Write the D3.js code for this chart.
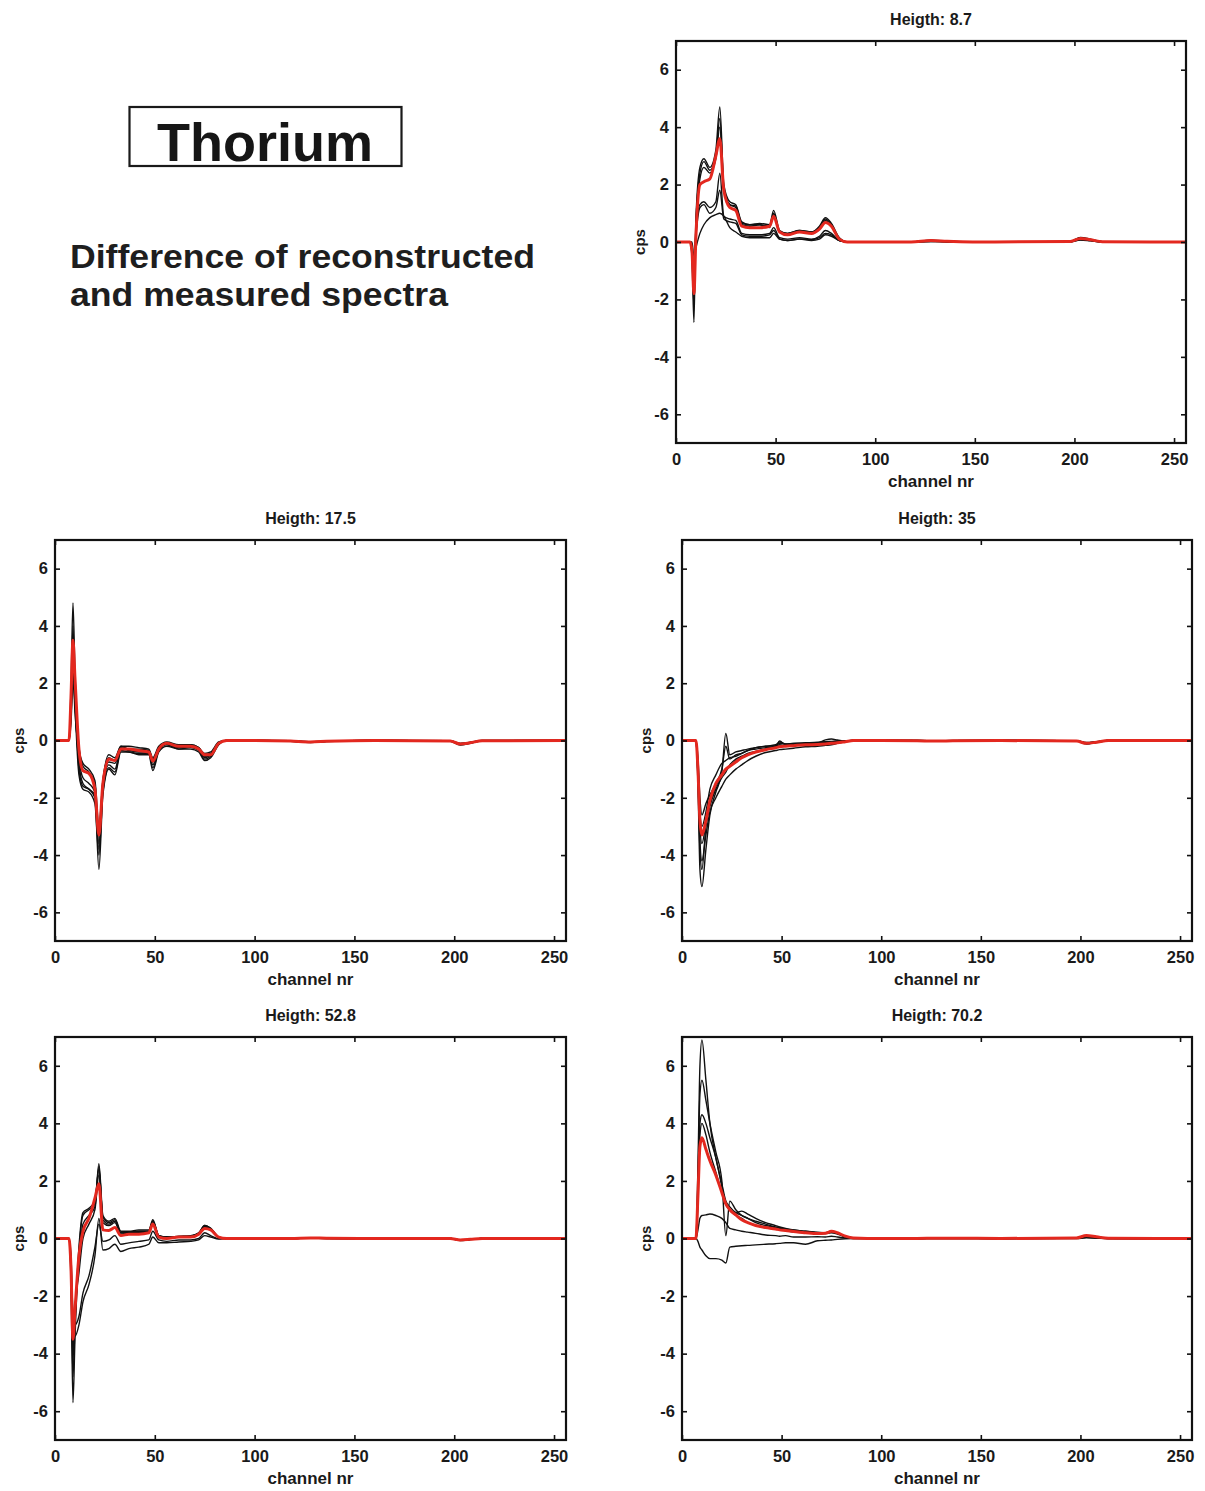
<!DOCTYPE html>
<html>
<head>
<meta charset="utf-8">
<script src="https://cdn.jsdelivr.net/npm/d3@7"></script>
<style>
  html, body { margin: 0; padding: 0; background: #fff; }
  svg { display: block; font-family: "Liberation Sans", Arial, Helvetica, sans-serif; }
</style>
</head>
<body>
<svg id="chart" width="1205" height="1491"></svg>
<script>
// ---------------- DATA ----------------
const channels = [0, 7, 8, 9, 10, 12, 14, 17, 20, 22, 24, 27, 30, 33, 37, 42, 47, 49, 52, 56, 62, 68, 72, 75, 78, 82, 86, 100, 118, 128, 136, 160, 198, 203, 208, 214, 256];
const xTicks = [0, 50, 100, 150, 200, 250];
const yTicks = [-6, -4, -2, 0, 2, 4, 6];
const titles = ["Heigth: 8.7", "Heigth: 17.5", "Heigth: 35", "Heigth: 52.8", "Heigth: 70.2"];

// Height 8.7
const h87Red = [0,0,-0.3,-1.8,0.2,2.0,2.1,2.2,3.0,3.6,1.8,1.2,1.1,0.55,0.5,0.5,0.55,0.9,0.35,0.25,0.35,0.3,0.45,0.68,0.55,0.1,0, 0,0,0.05,0.03,0,0.02,0.12,0.08,0.01,0];
const h87Black = [
  [0,0,-0.5,-2.8,0.8,2.6,2.9,2.6,3.2,4.7,2.0,1.4,1.3,0.7,0.6,0.65,0.6,1.1,0.4,0.3,0.4,0.35,0.55,0.85,0.65,0.15,0, 0,0,0.06,0.03,0,0.02,0.16,0.1,0.01,0],
  [0,0,-0.4,-2.2,0.6,2.4,2.8,2.5,3.0,4.3,1.9,1.3,1.25,0.65,0.6,0.6,0.55,1.0,0.35,0.3,0.4,0.35,0.5,0.8,0.6,0.12,0, 0,0,0.05,0.02,0,0.02,0.14,0.09,0.01,0],
  [0,0,-0.3,-1.5,0.5,2.2,2.6,2.4,2.9,4.0,1.8,1.3,1.2,0.6,0.55,0.6,0.5,0.95,0.35,0.25,0.35,0.3,0.45,0.75,0.55,0.1,0, 0,0,0.04,0.02,0,0.01,0.13,0.08,0.01,0],
  [0,0,-0.2,-1.0,0.3,1.3,1.4,1.2,1.4,2.4,0.9,0.8,0.75,0.3,0.25,0.25,0.3,0.5,0.15,0.1,0.15,0.1,0.2,0.4,0.3,0.05,0, 0,0,0.03,0.01,0,0.01,0.1,0.06,0,0],
  [0,0,-0.2,-0.8,0.2,1.2,1.3,1.0,1.2,1.8,0.8,0.7,0.65,0.25,0.2,0.2,0.25,0.4,0.1,0.05,0.1,0.08,0.15,0.3,0.25,0.05,0, 0,0,0.02,0.01,0,0.01,0.08,0.05,0,0],
  [0,0,0,-0.5,-0.2,0.3,0.6,0.85,0.95,1.0,0.9,0.5,0.35,0.2,0.15,0.15,0.15,0.3,0.1,0.05,0.1,0.05,0.1,0.25,0.2,0.05,0, 0,0,0.02,0.01,0,0.01,0.07,0.04,0,0]
];

// Height 17.5
const h175Red = [0,0,1.5,3.5,2.2,-0.3,-1.05,-1.15,-1.7,-3.3,-1.5,-0.65,-0.7,-0.3,-0.3,-0.35,-0.4,-0.72,-0.3,-0.1,-0.2,-0.2,-0.3,-0.5,-0.5,-0.1,0, 0,-0.02,-0.05,-0.03,0,-0.02,-0.12,-0.08,-0.01,0];
const h175Black = [
  [0,0,1.8,4.8,2.4,-0.2,-0.9,-1.1,-1.5,-3.6,-1.4,-0.5,-0.6,-0.2,-0.2,-0.25,-0.3,-0.6,-0.2,-0.05,-0.15,-0.15,-0.25,-0.45,-0.4,-0.05,0, 0,-0.01,-0.04,-0.02,0,-0.01,-0.1,-0.06,0,0],
  [0,0,1.3,4.0,1.6,-0.8,-1.5,-1.7,-2.0,-4.5,-1.9,-1.0,-1.2,-0.4,-0.4,-0.5,-0.5,-1.05,-0.4,-0.2,-0.3,-0.3,-0.4,-0.7,-0.6,-0.15,0, 0,-0.03,-0.07,-0.04,0,-0.03,-0.16,-0.1,-0.02,0],
  [0,0,1.0,3.2,1.3,-1.2,-1.7,-1.8,-2.2,-4.0,-1.8,-0.95,-1.1,-0.35,-0.4,-0.45,-0.45,-0.95,-0.35,-0.15,-0.3,-0.25,-0.35,-0.65,-0.55,-0.12,0, 0,-0.02,-0.06,-0.03,0,-0.02,-0.14,-0.09,-0.01,0],
  [0,0,0.8,2.4,1.0,-0.3,-0.8,-1.0,-1.4,-3.0,-1.4,-0.6,-0.7,-0.2,-0.3,-0.3,-0.35,-0.65,-0.25,-0.08,-0.2,-0.15,-0.25,-0.5,-0.45,-0.08,0, 0,-0.01,-0.04,-0.02,0,-0.01,-0.1,-0.07,0,0],
  [0,0,0.6,2.0,1.3,-1.0,-1.6,-1.7,-1.9,-3.8,-1.6,-0.85,-1.0,-0.3,-0.35,-0.4,-0.4,-0.85,-0.3,-0.12,-0.25,-0.2,-0.3,-0.6,-0.5,-0.1,0, 0,-0.02,-0.05,-0.03,0,-0.02,-0.13,-0.08,-0.01,0],
  [0,0,1.2,3.6,1.7,-0.6,-1.3,-1.5,-1.8,-3.2,-1.5,-0.75,-0.8,-0.25,-0.3,-0.35,-0.35,-0.75,-0.25,-0.1,-0.25,-0.2,-0.3,-0.55,-0.5,-0.08,0, 0,-0.02,-0.05,-0.03,0,-0.02,-0.12,-0.08,-0.01,0]
];

// Height 35
const h35Red = [0,0,-1.0,-2.8,-3.3,-2.8,-2.1,-1.5,-1.2,-1.0,-0.9,-0.75,-0.6,-0.5,-0.4,-0.32,-0.25,-0.22,-0.2,-0.18,-0.15,-0.14,-0.12,-0.1,-0.08,-0.04,0, 0,-0.01,-0.02,-0.01,0,-0.02,-0.1,-0.06,0,0];
const h35Black = [
  [0,0,-1.5,-4.5,-5.1,-3.8,-2.6,-1.8,-1.1,0.25,-0.5,-0.4,-0.35,-0.3,-0.25,-0.2,-0.15,-0.05,-0.12,-0.1,-0.1,-0.08,-0.05,-0.05,-0.02,-0.02,0, 0,0,-0.02,-0.01,0,-0.01,-0.08,-0.05,0,0],
  [0,0,-0.8,-2.5,-3.0,-2.5,-1.7,-1.2,-0.8,-0.7,-0.6,-0.55,-0.45,-0.35,-0.25,-0.2,-0.18,-0.1,-0.12,-0.1,-0.08,-0.06,-0.04,-0.03,-0.02,-0.01,0, 0,0,-0.01,0,0,-0.01,-0.07,-0.04,0,0],
  [0,0,-1.2,-3.5,-4.2,-3.3,-2.5,-2.0,-1.6,-1.35,-1.2,-1.0,-0.85,-0.7,-0.55,-0.42,-0.35,-0.32,-0.3,-0.27,-0.22,-0.2,-0.17,-0.15,-0.1,-0.05,0, 0,-0.01,-0.03,-0.02,0,-0.02,-0.12,-0.07,-0.01,0],
  [0,0,-1.0,-3.0,-3.6,-2.9,-2.2,-1.6,-1.2,-1.0,-0.9,-0.7,-0.6,-0.5,-0.4,-0.3,-0.25,-0.2,-0.2,-0.17,-0.14,-0.12,-0.1,-0.08,-0.05,-0.03,0, 0,-0.01,-0.02,-0.01,0,-0.02,-0.1,-0.06,0,0],
  [0,0,-0.6,-2.0,-2.6,-2.2,-1.9,-1.5,-1.0,-0.2,-0.65,-0.5,-0.45,-0.35,-0.3,-0.25,-0.2,-0.15,-0.18,-0.15,-0.12,-0.1,-0.08,-0.06,-0.04,-0.02,0, 0,0,-0.02,-0.01,0,-0.01,-0.09,-0.05,0,0],
  [0,0,-1.3,-3.8,-4.5,-3.0,-2.3,-1.7,-1.3,-1.1,-0.85,-0.65,-0.55,-0.45,-0.38,-0.3,-0.22,-0.02,-0.15,-0.13,-0.1,-0.08,0.02,0.05,0.02,-0.02,0, 0,-0.01,-0.02,-0.01,0,-0.01,-0.11,-0.06,0,0]
];

// Height 52.8
const h528Red = [0,0,-1.0,-3.5,-2.5,-0.6,0.25,0.7,1.4,1.9,0.3,0.28,0.38,0.1,0.15,0.15,0.2,0.5,0.05,0.0,0.05,0.05,0.15,0.35,0.3,0.05,0, 0,0,0.02,0.01,0,0,-0.05,-0.03,0,0];
const h528Black = [
  [0,0,-1.5,-5.7,-3.5,-0.5,0.8,1.0,1.2,2.6,0.8,0.6,0.7,0.25,0.25,0.3,0.3,0.65,0.1,0.05,0.08,0.1,0.2,0.45,0.35,0.05,0, 0,0,0.03,0.01,0,0,-0.06,-0.04,0,0],
  [0,0,-1.2,-4.8,-3.0,-0.3,0.9,1.05,1.3,2.4,0.75,0.55,0.65,0.2,0.22,0.25,0.25,0.6,0.1,0.05,0.05,0.08,0.18,0.42,0.32,0.05,0, 0,0,0.02,0.01,0,0,-0.05,-0.03,0,0],
  [0,0,-1.0,-4.0,-2.5,-1.2,0.0,0.5,1.0,2.2,0.55,0.45,0.55,0.15,0.2,0.2,0.2,0.55,0.05,0.02,0.05,0.06,0.15,0.38,0.3,0.04,0, 0,0,0.02,0.01,0,0,-0.05,-0.03,0,0],
  [0,0,-0.8,-3.2,-3.4,-3.0,-2.2,-1.6,-0.6,0.7,-0.4,-0.35,-0.2,-0.45,-0.35,-0.3,-0.2,0.05,-0.15,-0.15,-0.12,-0.1,-0.05,0.1,0.05,-0.02,0, 0,0,0.01,0,0,0,-0.07,-0.04,0,0],
  [0,0,-0.6,-2.6,-3.0,-2.7,-1.9,-1.3,-0.3,0.5,-0.1,-0.05,0.1,-0.2,-0.15,-0.1,-0.05,0.25,-0.05,-0.1,-0.05,-0.05,0.0,0.2,0.1,0,0, 0,0,0.01,0,0,0,-0.06,-0.03,0,0],
  [0,0,-1.1,-4.2,-2.8,-0.8,0.5,0.8,1.1,2.5,0.65,0.5,0.6,0.2,0.22,0.25,0.25,0.6,0.08,0.05,0.06,0.08,0.18,0.45,0.35,0.05,0, 0,0,0.02,0.01,0,0,-0.05,-0.03,0,0]
];

// Height 70.2
const h702Red = [0,0,1.5,3.2,3.5,3.1,2.7,2.2,1.6,1.2,1.0,0.82,0.65,0.55,0.45,0.38,0.33,0.3,0.28,0.24,0.2,0.17,0.18,0.25,0.2,0.08,0.02, 0,0,0.01,0.01,0,0.02,0.1,0.06,0.01,0];
const h702Black = [
  [0,0,2.5,6.0,6.9,5.5,4.0,2.8,1.9,1.3,1.1,0.9,0.8,0.7,0.55,0.45,0.38,0.35,0.3,0.25,0.22,0.2,0.2,0.25,0.18,0.08,0.02, 0,0,0.01,0.01,0,0.02,0.1,0.06,0.01,0],
  [0,0,2.0,5.0,5.5,4.8,4.0,3.0,2.0,0.1,1.3,1.0,0.8,0.7,0.6,0.5,0.4,0.38,0.32,0.3,0.25,0.22,0.2,0.22,0.18,0.08,0.02, 0,0,0.01,0.01,0,0.02,0.09,0.05,0.01,0],
  [0,0,1.5,4.0,4.3,4.0,3.5,2.8,1.8,1.2,1.0,0.9,0.95,0.85,0.7,0.55,0.45,0.4,0.35,0.3,0.25,0.2,0.18,0.2,0.15,0.06,0.02, 0,0,0.01,0.01,0,0.02,0.08,0.05,0.01,0],
  [0,0,1.2,3.6,4.0,3.6,3.0,2.3,1.6,1.2,1.0,0.8,0.7,0.55,0.45,0.38,0.32,0.3,0.28,0.22,0.2,0.18,0.17,0.22,0.18,0.06,0.02, 0,0,0.01,0.01,0,0.01,0.08,0.05,0,0],
  [0,0,0.3,0.7,0.8,0.82,0.85,0.8,0.7,0.55,0.35,0.3,0.25,0.22,0.18,0.12,0.1,0.08,0.1,0.05,0.05,0.06,0.05,0.08,0.05,0.02,0, 0,0,0,0,0,0.01,0.04,0.02,0,0],
  [0,0,-0.1,-0.3,-0.4,-0.6,-0.7,-0.7,-0.75,-0.85,-0.3,-0.27,-0.25,-0.24,-0.22,-0.2,-0.18,-0.17,-0.15,-0.15,-0.2,-0.08,-0.06,-0.05,-0.03,-0.01,0, 0,0,0,0,0,0,0.02,0.01,0,0]
];

// ---------------- LAYOUT ----------------
const layout = [
  { x0: 676, x1: 1186, y0: 41,   y1: 443,  red: h87Red,  blacks: h87Black },
  { x0: 55,  x1: 566,  y0: 540,  y1: 941,  red: h175Red, blacks: h175Black },
  { x0: 682, x1: 1192, y0: 540,  y1: 941,  red: h35Red,  blacks: h35Black },
  { x0: 55,  x1: 566,  y0: 1037, y1: 1440, red: h528Red, blacks: h528Black },
  { x0: 682, x1: 1192, y0: 1037, y1: 1440, red: h702Red, blacks: h702Black }
];

const svg = d3.select("#chart");
svg.append("rect").attr("width", 1205).attr("height", 1491).attr("fill", "#fff");

// Header
svg.append("rect").attr("x", 129.5).attr("y", 107).attr("width", 272).attr("height", 59)
  .attr("fill", "none").attr("stroke", "#1a1a1a").attr("stroke-width", 2.2);
svg.append("text").attr("x", 265).attr("y", 161).attr("text-anchor", "middle")
  .attr("font-size", 54).attr("font-weight", "bold").attr("fill", "#161616").text("Thorium");
svg.append("text").attr("x", 70).attr("y", 268).attr("font-size", 34).attr("font-weight", "bold")
  .attr("fill", "#1e1e1e").attr("textLength", 465).attr("lengthAdjust", "spacingAndGlyphs")
  .text("Difference of reconstructed");
svg.append("text").attr("x", 70).attr("y", 306).attr("font-size", 34).attr("font-weight", "bold")
  .attr("fill", "#1e1e1e").attr("textLength", 378).attr("lengthAdjust", "spacingAndGlyphs")
  .text("and measured spectra");

layout.forEach((p, i) => {
  const x = d3.scaleLinear().domain([0, 256]).range([p.x0, p.x1]);
  const y = d3.scaleLinear().domain([-7, 7]).range([p.y1, p.y0]);
  const g = svg.append("g");
  const clipId = "clip" + i;
  svg.append("clipPath").attr("id", clipId).append("rect")
    .attr("x", p.x0).attr("y", p.y0).attr("width", p.x1 - p.x0).attr("height", p.y1 - p.y0);

  const line = d3.line()
    .x((d, k) => x(channels[k]))
    .y(d => y(d))
    .curve(d3.curveMonotoneX);

  const lines = g.append("g").attr("clip-path", `url(#${clipId})`);
  p.blacks.forEach(s => {
    lines.append("path").attr("d", line(s)).attr("fill", "none")
      .attr("stroke", "#111").attr("stroke-width", 1.4).attr("stroke-linejoin", "round");
  });
  lines.append("path").attr("d", line(p.red)).attr("fill", "none")
    .attr("stroke", "#e3281f").attr("stroke-width", 3).attr("stroke-linejoin", "round");

  // axes (ticks inside, all four sides)
  const tl = 5;
  g.append("g").attr("transform", `translate(0,${p.y1})`)
    .call(d3.axisBottom(x).tickValues(xTicks).tickSize(-tl).tickPadding(10).tickFormat(d => String(d)));
  g.append("g").attr("transform", `translate(0,${p.y0})`)
    .call(d3.axisTop(x).tickValues(xTicks).tickSize(-tl).tickFormat(""));
  g.append("g").attr("transform", `translate(${p.x0},0)`)
    .call(d3.axisLeft(y).tickValues(yTicks).tickSize(-tl).tickPadding(7).tickFormat(d => String(d)));
  g.append("g").attr("transform", `translate(${p.x1},0)`)
    .call(d3.axisRight(y).tickValues(yTicks).tickSize(-tl).tickFormat(""));
  g.selectAll(".domain").remove();
  g.selectAll(".tick line").attr("stroke", "#111").attr("stroke-width", 1.6);
  g.selectAll(".tick text").attr("font-size", 16.5).attr("font-weight", "bold")
    .attr("fill", "#1a1a1a").attr("font-family", "'Liberation Sans', Arial, sans-serif");

  // frame
  g.append("rect").attr("x", p.x0).attr("y", p.y0).attr("width", p.x1 - p.x0).attr("height", p.y1 - p.y0)
    .attr("fill", "none").attr("stroke", "#111").attr("stroke-width", 2.2);

  // labels
  const cx = (p.x0 + p.x1) / 2;
  g.append("text").attr("x", cx).attr("y", p.y0 - 16).attr("text-anchor", "middle")
    .attr("font-size", 16).attr("font-weight", "bold").attr("fill", "#1a1a1a").text(titles[i]);
  g.append("text").attr("x", cx).attr("y", p.y1 + 44).attr("text-anchor", "middle")
    .attr("font-size", 17).attr("font-weight", "bold").attr("fill", "#1a1a1a").text("channel nr");
  g.append("text").attr("transform", `translate(${p.x0 - 31},${(p.y0 + p.y1) / 2}) rotate(-90)`)
    .attr("text-anchor", "middle").attr("font-size", 15).attr("font-weight", "bold")
    .attr("fill", "#1a1a1a").text("cps");
});
</script>
</body>
</html>
